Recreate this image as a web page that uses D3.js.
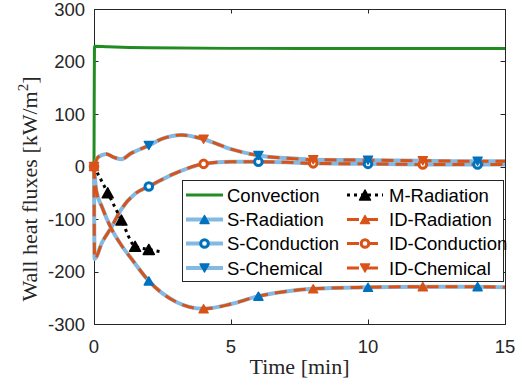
<!DOCTYPE html>
<html>
<head>
<meta charset="utf-8">
<script src="https://cdn.jsdelivr.net/npm/d3@7"></script>
<style>
  body { margin: 0; background: #fff; }
  svg { display: block; }
</style>
</head>
<body>
<svg id="chart" width="519" height="387"></svg>
<script>
// time axis [min] and values [kW/m2]
const convT = [0, 0.02, 0.5, 2, 5, 10, 15];
const convV = [0, 229, 228, 226, 225, 225, 225];

const radT = [0, 0.08, 0.3, 0.62, 1, 1.4, 2, 3, 4, 5, 6, 7, 8, 10, 12, 14, 15];
const sRadiation = [0, -45, -78, -117, -150, -178, -218, -258, -271, -262, -247, -238, -233, -230, -229, -229, -230];
const idRadiation = [0, -45, -78, -117, -150, -178, -218, -258, -271, -262, -247, -238, -233, -230, -229, -229, -230];

const condT = [0, 0.02, 0.3, 0.62, 1, 1.5, 2, 3, 4, 5, 6, 7, 8, 10, 12, 14, 15];
const sConduction = [0, -176, -144, -117, -81, -52, -38, -12, 5, 9, 9, 8, 6, 5, 4, 4, 4];
const idConduction = [0, -176, -144, -117, -81, -52, -38, -12, 5, 9, 9, 8, 6, 5, 4, 4, 4];

const chemT = [0, 0.15, 0.45, 0.7, 1, 1.35, 2, 2.5, 3.2, 4, 5, 6, 7, 8, 10, 12, 14, 15];
const sChemical = [0, 18, 24, 18, 14, 25, 40, 53, 60, 52, 33, 21, 16, 13, 12, 11, 10, 10];
const idChemical = [0, 18, 24, 18, 14, 25, 40, 53, 60, 52, 33, 21, 16, 13, 12, 11, 10, 10];

const mRadT = [0, 0.5, 1, 1.5, 2, 2.4];
const mRadiation = [0, -50, -102, -152, -158, -162];
const mMarkT = [0.5, 1, 1.5, 2];

const sMarkT = [2, 6, 10, 14];
const idMarkT = [0, 4, 8, 12];

const xTicks = [0, 5, 10, 15];
const yTicks = [-300, -200, -100, 0, 100, 200, 300];

// layout
const box = { left: 94, right: 505, top: 9, bottom: 324 };
const green = '#228b22', lightBlue = '#84bae1', blue = '#0072bd', orange = '#d95319', axisCol = '#262626';
const sansFont = '"Liberation Sans", Arial, sans-serif';
const serifFont = '"Liberation Serif", "Times New Roman", serif';

const svg = d3.select('#chart');

const x = d3.scaleLinear().domain([0, 15]).range([box.left, box.right]);
const y = d3.scaleLinear().domain([-300, 300]).range([box.bottom, box.top]);

// clip a little outside the box so lines on the border stay whole
svg.append('defs').append('clipPath').attr('id', 'clip')
  .append('rect')
  .attr('x', box.left - 3).attr('y', box.top - 3)
  .attr('width', box.right - box.left + 6).attr('height', box.bottom - box.top + 6);

const zip = (ts, vs) => ts.map((t, i) => ({ t: t, v: vs[i] }));
const line = d3.line().x(d => x(d.t)).y(d => y(d.v)).curve(d3.curveMonotoneX);

// marker shapes
function triUp(w, h) { return `M0,${-h / 2}L${w / 2},${h / 2}L${-w / 2},${h / 2}Z`; }
function triDown(w, h) { return `M0,${h / 2}L${w / 2},${-h / 2}L${-w / 2},${-h / 2}Z`; }

function drawMarker(g, kind, cx, cy, color, big) {
  if (kind === 'o') {
    g.append('circle').attr('cx', cx).attr('cy', cy).attr('r', 3.8)
      .attr('fill', '#fff').attr('stroke', color).attr('stroke-width', 3);
  } else {
    const w = big ? 11 : 9, h = big ? 10 : 8;
    g.append('path')
      .attr('d', kind === '^' ? triUp(w, h) : triDown(w, h))
      .attr('transform', `translate(${cx},${cy})`)
      .attr('fill', color).attr('stroke', color)
      .attr('stroke-width', 1.5).attr('stroke-linejoin', 'round');
  }
}

// series definitions
const series = [
  { name: 'S-Radiation', pts: zip(radT, sRadiation), stroke: lightBlue, width: 4, dash: null, mk: '^', mkCol: blue, marks: sMarkT },
  { name: 'S-Conduction', pts: zip(condT, sConduction), stroke: lightBlue, width: 4, dash: null, mk: 'o', mkCol: blue, marks: sMarkT },
  { name: 'S-Chemical', pts: zip(chemT, sChemical), stroke: lightBlue, width: 4, dash: null, mk: 'v', mkCol: blue, marks: sMarkT },
  { name: 'ID-Radiation', pts: zip(radT, idRadiation), stroke: orange, width: 3, dash: '12,7', mk: '^', mkCol: orange, marks: idMarkT },
  { name: 'ID-Conduction', pts: zip(condT, idConduction), stroke: orange, width: 3, dash: '12,7', mk: 'o', mkCol: orange, marks: idMarkT },
  { name: 'ID-Chemical', pts: zip(chemT, idChemical), stroke: orange, width: 3, dash: '12,7', mk: 'v', mkCol: orange, marks: idMarkT }
];
const conv = { name: 'Convection', pts: zip(convT, convV), stroke: green, width: 3, dash: null };
const mRad = { name: 'M-Radiation', pts: zip(mRadT, mRadiation), stroke: '#000', width: 3, dash: '3,4', mk: '^', mkCol: '#000', marks: mMarkT };

// axes box first, data drawn over it like MATLAB
const axes = svg.append('g').attr('stroke', axisCol).attr('stroke-width', 1).attr('fill', 'none');
axes.append('rect')
  .attr('x', box.left + 0.5).attr('y', box.top + 0.5)
  .attr('width', box.right - box.left).attr('height', box.bottom - box.top);

const tickLen = 4.5;
xTicks.forEach(t => {
  const px = Math.round(x(t)) + 0.5;
  axes.append('line').attr('x1', px).attr('x2', px).attr('y1', box.bottom).attr('y2', box.bottom - tickLen);
  axes.append('line').attr('x1', px).attr('x2', px).attr('y1', box.top).attr('y2', box.top + tickLen);
});
yTicks.forEach(v => {
  const py = Math.round(y(v)) + 0.5;
  axes.append('line').attr('x1', box.left).attr('x2', box.left + tickLen).attr('y1', py).attr('y2', py);
  axes.append('line').attr('x1', box.right).attr('x2', box.right - tickLen).attr('y1', py).attr('y2', py);
});

const plot = svg.append('g').attr('clip-path', 'url(#clip)');

// Draw lines
function drawLine(s) {
  plot.append('path')
    .datum(s.pts)
    .attr('fill', 'none')
    .attr('stroke', s.stroke)
    .attr('stroke-width', s.width)
    .attr('stroke-dasharray', s.dash)
    .attr('d', line);
}
[conv].concat(series.slice(0, 3)).forEach(drawLine);
series.slice(3).forEach(drawLine);
drawLine(mRad);

// Draw markers
const markG = svg.append('g');
function drawMarks(s) {
  s.marks.forEach(t => {
    const p = s.pts.find(d => d.t === t);
    if (p) drawMarker(markG, s.mk, x(p.t), y(p.v), s.mkCol, s === mRad);
  });
}
series.forEach(drawMarks);
drawMarks(mRad);

// tick labels
svg.append('g').selectAll('text').data(xTicks).join('text')
  .attr('x', d => x(d)).attr('y', box.bottom + 29)
  .attr('text-anchor', 'middle')
  .attr('font-family', sansFont).attr('font-size', '18.5px').attr('fill', axisCol)
  .text(d => d);

svg.append('g').selectAll('text').data(yTicks).join('text')
  .attr('x', 85).attr('y', d => y(d) + 6.5)
  .attr('text-anchor', 'end')
  .attr('font-family', sansFont).attr('font-size', '18.5px').attr('fill', axisCol)
  .text(d => d);

// axis titles
svg.append('text')
  .attr('x', (box.left + box.right) / 2).attr('y', 374)
  .attr('text-anchor', 'middle')
  .attr('font-family', serifFont).attr('font-size', '22px').attr('fill', axisCol)
  .text('Time [min]');

const yTitle = svg.append('text')
  .attr('transform', 'translate(37,189) rotate(-90)')
  .attr('text-anchor', 'middle')
  .attr('font-family', serifFont).attr('font-size', '22px').attr('fill', axisCol);
yTitle.append('tspan').text('Wall heat fluxes [kW/m');
yTitle.append('tspan').attr('font-size', '15px').attr('dy', -9).text('2');
yTitle.append('tspan').attr('dy', 9).text(']');

// legend
const leg = svg.append('g');
leg.append('rect')
  .attr('x', 182.5).attr('y', 180.5).attr('width', 321).attr('height', 101)
  .attr('fill', '#fff').attr('stroke', axisCol).attr('stroke-width', 1);

const rowY = [195, 219.5, 243.5, 268];
function legendEntry(s, col, row) {
  const x0 = col === 0 ? 186 : 347, x1 = col === 0 ? 223 : 383;
  const cy = rowY[row];
  leg.append('line')
    .attr('x1', x0).attr('x2', x1).attr('y1', cy).attr('y2', cy)
    .attr('stroke', s.stroke).attr('stroke-width', s.width)
    .attr('stroke-dasharray', s.dash);
  if (s.mk) drawMarker(leg, s.mk, (x0 + x1) / 2, cy, s.mkCol, s === mRad);
  leg.append('text')
    .attr('x', col === 0 ? 227 : 389).attr('y', cy + 6.5)
    .attr('font-family', sansFont).attr('font-size', '18.5px').attr('fill', '#000')
    .text(s.name);
}
const leftSeries = [conv, series[0], series[1], series[2]];
const rightSeries = [mRad, series[3], series[4], series[5]];
leftSeries.forEach((s, i) => legendEntry(s, 0, i));
rightSeries.forEach((s, i) => legendEntry(s, 1, i));
</script>
</body>
</html>
